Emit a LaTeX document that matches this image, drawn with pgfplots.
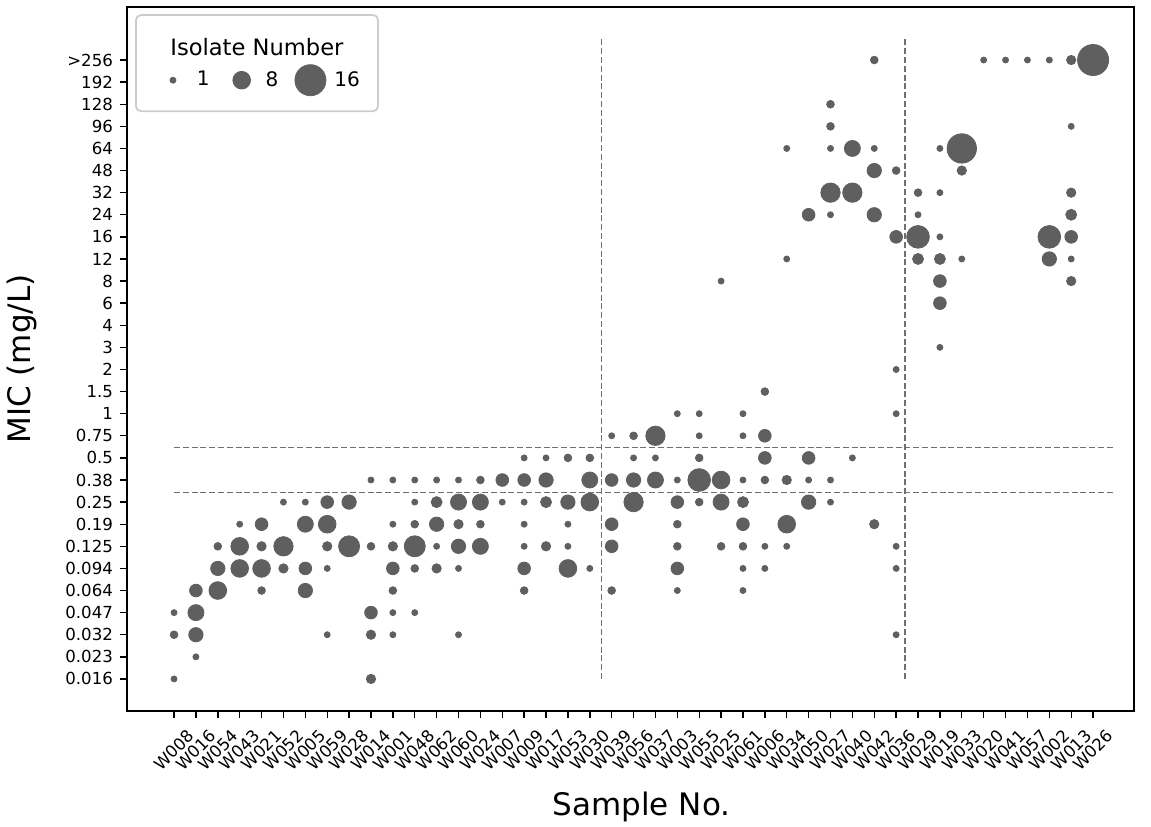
\documentclass[border=0pt]{standalone}
\usepackage{pgfplots}
\pgfplotsset{compat=1.18}
\usepackage{pgfplotstable}
\usepackage{fontspec}
\setmainfont{DejaVu Sans}
\definecolor{dotgray}{HTML}{5F5F5F}
\definecolor{lngray}{HTML}{707070}

% x = sample index, y = MIC level index, n = isolate count
\pgfplotstableread{
x y n
0 0 1
0 2 2
0 3 1
1 1 1
1 2 6
1 3 7
1 4 5
2 4 8
2 5 6
2 6 2
3 5 8
3 6 8
3 7 1
4 4 2
4 5 8
4 6 3
4 7 5
5 5 3
5 6 9
5 8 1
6 4 6
6 5 5
6 7 7
6 8 1
7 2 1
7 5 1
7 6 3
7 7 8
7 8 5
8 6 10
8 8 6
9 0 3
9 2 3
9 3 5
9 6 2
9 9 1
10 2 1
10 3 1
10 4 2
10 5 5
10 6 3
10 7 1
10 9 1
11 3 1
11 5 2
11 6 10
11 7 2
11 8 1
11 9 1
12 5 3
12 6 1
12 7 6
12 8 4
12 9 1
13 2 1
13 5 1
13 6 6
13 7 3
13 8 7
13 9 1
14 6 7
14 7 2
14 8 7
14 9 2
15 8 1
15 9 5
16 4 2
16 5 5
16 6 1
16 7 1
16 8 1
16 9 5
16 10 1
17 6 3
17 8 4
17 9 6
17 10 1
18 5 8
18 6 1
18 7 1
18 8 6
18 10 2
19 5 1
19 8 8
19 9 7
19 10 2
20 4 2
20 6 5
20 7 5
20 9 5
20 11 1
21 8 9
21 9 6
21 10 1
21 11 2
22 9 7
22 10 1
22 11 9
23 4 1
23 5 5
23 6 2
23 7 2
23 8 5
23 9 1
23 12 1
24 8 2
24 9 11
24 10 2
24 11 1
24 12 1
25 6 2
25 8 7
25 9 8
25 18 1
26 4 1
26 5 1
26 6 2
26 7 5
26 8 4
26 9 1
26 11 1
26 12 1
27 5 1
27 6 1
27 9 2
27 10 5
27 11 5
27 13 2
28 6 1
28 7 8
28 9 3
28 19 1
28 24 1
29 8 6
29 9 1
29 10 5
29 21 5
30 8 1
30 9 1
30 21 1
30 22 9
30 24 1
30 25 2
30 26 2
31 10 1
31 22 9
31 24 7
32 7 3
32 21 6
32 23 6
32 24 1
32 28 2
33 2 1
33 5 1
33 6 1
33 12 1
33 14 1
33 20 5
33 23 2
34 19 4
34 20 11
34 21 1
34 22 2
35 15 1
35 17 5
35 18 5
35 19 4
35 20 1
35 22 1
35 24 1
36 19 1
36 23 3
36 24 15
37 28 1
38 28 1
39 28 1
40 19 6
40 20 11
40 28 1
41 18 3
41 19 1
41 20 5
41 21 4
41 22 3
41 25 1
41 28 3
42 28 16
}\mic

\begin{document}
\begin{tikzpicture}
\begin{axis}[
  name=ax,
  scale only axis,
  width=503.5pt, height=352pt,
  xmin=-2.15, xmax=43.87,
  ymin=-1.45, ymax=30.4,
  axis line style={line width=1pt},
  tick align=outside,
  xtick pos=left, ytick pos=left,
  major tick length=3.5pt,
  tick style={line width=0.7pt, black},
  xtick={0,...,42},
  xticklabels={W008,W016,W054,W043,W021,W052,W005,W059,W028,W014,W001,W048,W062,W060,W024,W007,W009,W017,W053,W030,W039,W056,W037,W003,W055,W025,W061,W006,W034,W050,W027,W040,W042,W036,W029,W019,W033,W020,W041,W057,W002,W013,W026},
  ytick={0,...,28},
  yticklabels={0.016,0.023,0.032,0.047,0.064,0.094,0.125,0.19,0.25,0.38,0.5,0.75,1,1.5,2,3,4,6,8,12,16,24,32,48,64,96,128,192,>256},
  tick label style={font=\fontsize{8.3}{10}\selectfont},
  x tick label style={yshift=-16pt, rotate=45, anchor=center},
  xlabel={Sample No.},
  ylabel={MIC (mg/L)},
  label style={font=\fontsize{15.5}{18}\selectfont},
  xlabel style={at={(axis description cs:0.511,-0.136)}, anchor=center},
  ylabel style={at={(axis description cs:-0.104,0.5)}, anchor=center},
  legend style={at={(axis description cs:0.132,0.896)}, anchor=center,
    draw=none, fill=none, font=\fontsize{10}{12}\selectfont,
    /tikz/every even column/.append style={column sep=5.5pt}},
  legend columns=3,
  legend image code/.code={\path[draw=none, fill=none] (0pt,0pt) -- (18.5pt,0pt);
    \path[#1, draw=none, fill=none] plot coordinates {(8.5pt,0pt)};},
]
% cut-off lines
\draw[lngray, line width=0.6pt, dash pattern=on 3pt off 1.4pt] (axis cs:0,10.48) -- (axis cs:43,10.48);
\draw[lngray, line width=0.6pt, dash pattern=on 3pt off 1.4pt] (axis cs:0,8.45) -- (axis cs:43,8.45);
\draw[lngray, line width=0.6pt, dash pattern=on 3pt off 1.4pt] (axis cs:19.52,0) -- (axis cs:19.52,29);
\draw[lngray, line width=0.6pt, dash pattern=on 3pt off 1.4pt] (axis cs:33.4,0) -- (axis cs:33.4,29);

\addplot[forget plot, scatter, only marks, mark=*,
  scatter/use mapped color={draw=dotgray, fill=dotgray},
  visualization depends on={1.083+0.4175*\thisrow{n} \as \msz},
  scatter/@pre marker code/.append style={/tikz/mark size=\msz pt}]
  table[x=x, y=y] {\mic};

\addlegendimage{mark=*, mark size=1.5pt, mark options={draw=dotgray, fill=dotgray}}
\addlegendentry{1}
\addlegendimage{mark=*, mark size=4.42pt, mark options={draw=dotgray, fill=dotgray}}
\addlegendentry{8}
\addlegendimage{mark=*, mark size=7.76pt, mark options={draw=dotgray, fill=dotgray}}
\addlegendentry{16}

\draw[black!20, line width=0.9pt, rounded corners=2.5pt] (axis description cs:0.0089,0.852) rectangle (axis description cs:0.2493,0.9886);
\node[font=\fontsize{11.3}{13}\selectfont] at (axis description cs:0.129,0.943) {Isolate Number};
\end{axis}
\pgfresetboundingbox
\path ([shift={(-63.5pt,-58pt)}]ax.south west) rectangle ([shift={(8.5pt,3.5pt)}]ax.north east);
\end{tikzpicture}
\end{document}
